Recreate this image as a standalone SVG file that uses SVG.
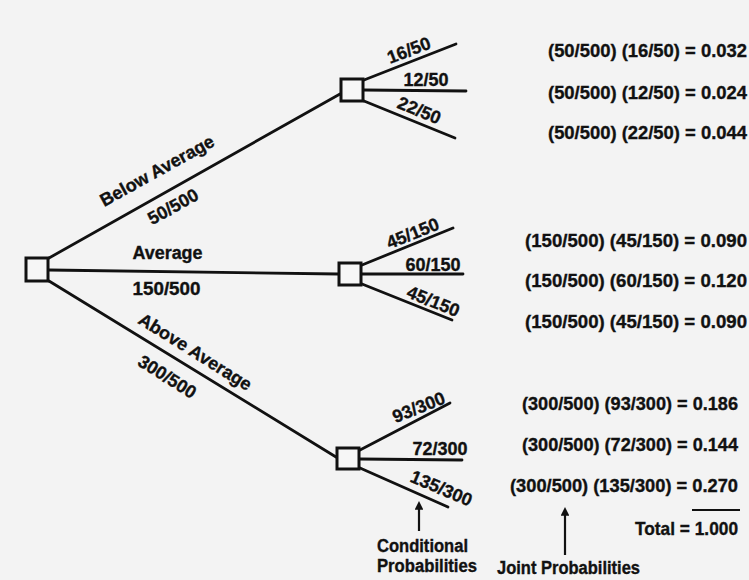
<svg xmlns="http://www.w3.org/2000/svg" width="749" height="580" viewBox="0 0 749 580">
<defs>
<style>
text{font-family:"Liberation Sans",Arial,Helvetica,sans-serif;font-weight:bold;fill:#111;stroke:#111;stroke-width:0.35}
.lbl{font-size:18px}
.sub{font-size:18px}
.jp{font-size:18.5px}
.note{font-size:17.5px}
.edge{stroke:#111;stroke-width:2.8;fill:none;stroke-linecap:round}
.node{stroke:#111;stroke-width:3;fill:#f6f6f6}
.arr{stroke:#111;stroke-width:2.2;fill:none}
</style>
<marker id="ah" viewBox="0 0 10 10" refX="2" refY="5" markerWidth="4.5" markerHeight="4" orient="auto" markerUnits="strokeWidth">
<path d="M0,0 L10,5 L0,10 z" fill="#111"/>
</marker>
</defs>
<rect width="749" height="580" fill="#f3f3f3"/>
<g id="connectors">
<line class="edge" x1="49" y1="258" x2="340" y2="94"/>
<line class="edge" x1="49" y1="270" x2="338" y2="274"/>
<line class="edge" x1="49" y1="281" x2="336" y2="457"/>
<line class="edge" x1="364" y1="80" x2="456" y2="44"/>
<line class="edge" x1="364" y1="90" x2="466" y2="91"/>
<line class="edge" x1="364" y1="101" x2="455" y2="138"/>
<line class="edge" x1="362" y1="265" x2="453" y2="228"/>
<line class="edge" x1="362" y1="274" x2="463" y2="274"/>
<line class="edge" x1="362" y1="284" x2="452" y2="320"/>
<line class="edge" x1="360" y1="450" x2="450" y2="403"/>
<line class="edge" x1="360" y1="459" x2="462" y2="460"/>
<line class="edge" x1="360" y1="468" x2="448" y2="507"/>
<text class="lbl" text-anchor="middle" transform="translate(160,176) rotate(-29)">Below Average</text>
<text class="lbl" text-anchor="middle" transform="translate(176,212) rotate(-29)">50/500</text>
<text class="lbl" text-anchor="middle" x="167.5" y="259" textLength="70" lengthAdjust="spacingAndGlyphs">Average</text>
<text class="lbl" text-anchor="middle" x="166.5" y="295" textLength="68" lengthAdjust="spacingAndGlyphs">150/500</text>
<text class="lbl" text-anchor="middle" transform="translate(192,357) rotate(32)">Above Average</text>
<text class="lbl" text-anchor="middle" transform="translate(164,382) rotate(32)">300/500</text>
<text class="sub" text-anchor="middle" transform="translate(411,56) rotate(-21)">16/50</text>
<text class="sub" text-anchor="middle" x="426" y="86">12/50</text>
<text class="sub" text-anchor="middle" transform="translate(417,116) rotate(22)">22/50</text>
<text class="sub" text-anchor="middle" transform="translate(415,239) rotate(-22)">45/150</text>
<text class="sub" text-anchor="middle" x="433" y="271">60/150</text>
<text class="sub" text-anchor="middle" transform="translate(431,307) rotate(22)">45/150</text>
<text class="sub" text-anchor="middle" transform="translate(421,413) rotate(-22)">93/300</text>
<text class="sub" text-anchor="middle" x="440" y="455">72/300</text>
<text class="sub" text-anchor="middle" transform="translate(439,494) rotate(23)">135/300</text>
</g>
<g id="root"><rect class="node" x="26" y="258" width="22" height="23"/></g>
<g id="node-below"><rect class="node" x="341" y="79" width="22" height="22"/></g>
<g id="node-average"><rect class="node" x="339" y="263" width="22" height="22"/></g>
<g id="node-above"><rect class="node" x="337" y="448" width="22" height="21"/></g>
<g id="joint">
<text class="jp" x="548" y="57" textLength="199" lengthAdjust="spacingAndGlyphs">(50/500) (16/50) = 0.032</text>
<text class="jp" x="548" y="99" textLength="199" lengthAdjust="spacingAndGlyphs">(50/500) (12/50) = 0.024</text>
<text class="jp" x="548" y="139" textLength="199" lengthAdjust="spacingAndGlyphs">(50/500) (22/50) = 0.044</text>
<text class="jp" x="525" y="247" textLength="222" lengthAdjust="spacingAndGlyphs">(150/500) (45/150) = 0.090</text>
<text class="jp" x="525" y="287" textLength="222" lengthAdjust="spacingAndGlyphs">(150/500) (60/150) = 0.120</text>
<text class="jp" x="525" y="328" textLength="222" lengthAdjust="spacingAndGlyphs">(150/500) (45/150) = 0.090</text>
<text class="jp" x="522" y="410" textLength="216" lengthAdjust="spacingAndGlyphs">(300/500) (93/300) = 0.186</text>
<text class="jp" x="522" y="451" textLength="216" lengthAdjust="spacingAndGlyphs">(300/500) (72/300) = 0.144</text>
<text class="jp" x="510" y="492" textLength="228" lengthAdjust="spacingAndGlyphs">(300/500) (135/300) = 0.270</text>
<line x1="692" y1="510" x2="740" y2="510" stroke="#111" stroke-width="2"/>
<text class="jp" x="635" y="535" textLength="103" lengthAdjust="spacingAndGlyphs">Total = 1.000</text>
</g>
<g id="notes">
<line class="arr" x1="419" y1="531" x2="419" y2="508" marker-end="url(#ah)"/>
<line class="arr" x1="565" y1="555" x2="565" y2="514" marker-end="url(#ah)"/>
<text class="note" x="377" y="552" textLength="91" lengthAdjust="spacingAndGlyphs">Conditional</text>
<text class="note" x="377" y="572" textLength="100" lengthAdjust="spacingAndGlyphs">Probabilities</text>
<text class="note" x="497" y="574" textLength="143" lengthAdjust="spacingAndGlyphs">Joint Probabilities</text>
</g>
</svg>
